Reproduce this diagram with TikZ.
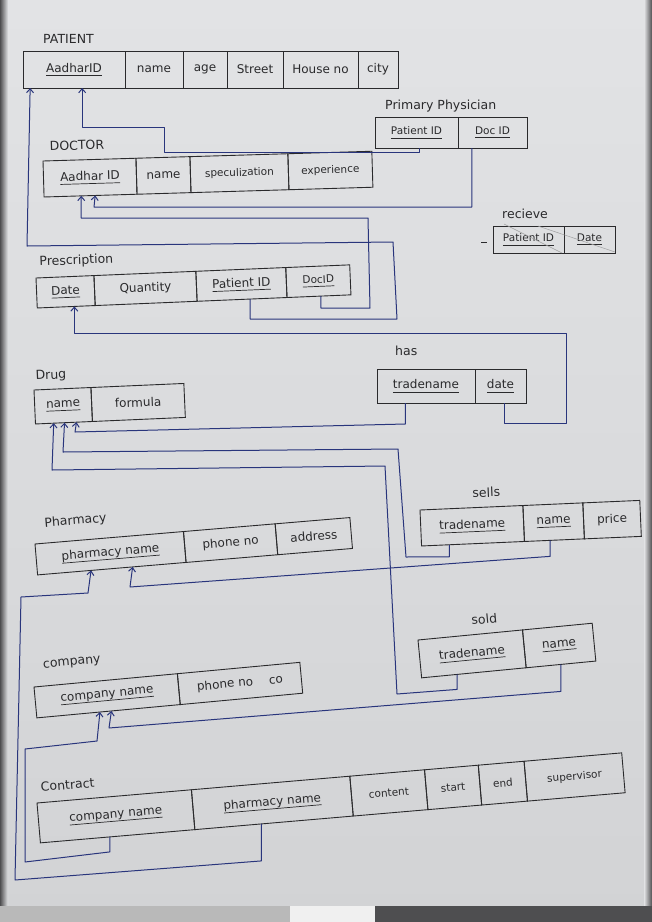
\documentclass[tikz,border=0pt]{standalone}
\usepackage{fontspec}
\setmainfont{DejaVu Sans}
\usetikzlibrary{arrows.meta,calc}

\definecolor{paperhi}{HTML}{E2E3E5}
\definecolor{paperlo}{HTML}{D2D3D5}
\definecolor{ink}{HTML}{2A2A2C}
\definecolor{pen}{HTML}{29357C}
\definecolor{edge}{HTML}{4E4E50}

% underlined key attribute
\newsavebox\keybox
\newcommand\ukey[1]{\sbox\keybox{#1}\rlap{\rule[-3.5pt]{\wd\keybox}{0.7pt}}\usebox\keybox}

\tikzset{
  cell/.style={draw=ink, line width=0.9pt, anchor=north west, inner sep=0pt,
               outer sep=0pt, text=ink, font=\fontsize{12}{14}\selectfont},
  small/.style={font=\fontsize{10.5}{12}\selectfont},
  lbl/.style={anchor=base west, inner sep=0pt, text=ink,
              font=\fontsize{12.5}{14}\selectfont},
  link/.style={draw=pen, line width=1pt, line join=round,
               -{Straight Barb[length=4pt,width=7pt]}},
  tbl/.style={transform shape}
}

\begin{document}
\begin{tikzpicture}[x=1pt,y=-1pt]
\useasboundingbox (0,0) rectangle (652,922);

% paper and photo edges
\shade[top color=paperhi, bottom color=paperlo] (0,0) rectangle (652,922);
\shade[left color=edge, right color=paperhi] (0,0) rectangle (8,906);
\shade[left color=paperhi, right color=edge] (644,0) rectangle (652,906);
\fill[gray!55] (0,906) rectangle (290,922);
\fill[gray!12] (290,906) rectangle (375,922);
\fill[edge] (375,906) rectangle (652,922);

% ---------------- PATIENT
\begin{scope}[shift={(23,51)}, tbl, cell/.append style={minimum height=37}]
  \node[lbl] (lab-pat) at (20,-8) {PATIENT};
  \node[cell, minimum width=102] (pat-id) at (0,0) {\ukey{AadharID}};
  \node[cell, minimum width=58] (pat-name) at (pat-id.north east) {name};
  \node[cell, minimum width=44] (pat-age) at (pat-name.north east) {age};
  \node[cell, minimum width=56] (pat-street) at (pat-age.north east) {Street};
  \node[cell, minimum width=75] (pat-house) at (pat-street.north east) {House no};
  \node[cell, minimum width=40] (pat-city) at (pat-house.north east) {city};
\end{scope}

% ---------------- Primary Physician
\begin{scope}[shift={(375,117)}, tbl, cell/.append style={minimum height=31}]
  \node[lbl] (lab-pp) at (10,-8) {Primary Physician};
  \node[cell, small, minimum width=83] (pp-pid) at (0,0) {\ukey{Patient ID}};
  \node[cell, small, minimum width=69] (pp-did) at (pp-pid.north east) {\ukey{Doc ID}};
\end{scope}

% ---------------- DOCTOR
\begin{scope}[shift={(43,161)}, rotate=1.7, tbl, cell/.append style={minimum height=36}]
  \node[lbl] (lab-doc) at (7,-10) {DOCTOR};
  \node[cell, minimum width=93] (doc-id) at (0,0) {\ukey{Aadhar ID}};
  \node[cell, minimum width=54] (doc-name) at (doc-id.north east) {name};
  \node[cell, small, minimum width=98] (doc-spec) at (doc-name.north east) {speculization};
  \node[cell, small, minimum width=84] (doc-exp) at (doc-spec.north east) {experience};
\end{scope}

% ---------------- recieve
\begin{scope}[shift={(493,226)}, tbl, cell/.append style={minimum height=27}]
  \node[lbl] (lab-rec) at (9,-8) {recieve};
  \node[cell, small, minimum width=71] (rec-pid) at (0,0) {\ukey{Patient ID}};
  \node[cell, small, minimum width=51] (rec-date) at (rec-pid.north east) {\ukey{Date}};
\end{scope}
\draw[ink!45, line width=0.5pt] (rec-pid.north west) ++(11,-2) -- ($(rec-pid.south east)+(-2,0)$);
\draw[ink!45, line width=0.5pt] ($(rec-pid.north east)+(-26,0)$) -- ($(rec-date.south east)+(0,-1)$);
\draw[ink, line width=0.8pt] ($(rec-pid.west)+(-12,3)$) coordinate (rec-dash) -- ++(6,0);

% ---------------- Prescription
\begin{scope}[shift={(36,278)}, rotate=2.4, tbl, cell/.append style={minimum height=30}]
  \node[lbl] (lab-pr) at (4,-12) {Prescription};
  \node[cell, minimum width=58] (pr-date) at (0,0) {\ukey{Date}};
  \node[cell, minimum width=102] (pr-qty) at (pr-date.north east) {Quantity};
  \node[cell, minimum width=90] (pr-pid) at (pr-qty.north east) {\ukey{Patient ID}};
  \node[cell, small, minimum width=64] (pr-did) at (pr-pid.north east) {\ukey{DocID}};
\end{scope}

% ---------------- has
\begin{scope}[shift={(377,369)}, tbl, cell/.append style={minimum height=34}]
  \node[lbl] (lab-has) at (18,-14) {has};
  \node[cell, minimum width=98] (has-tn) at (0,0) {\ukey{tradename}};
  \node[cell, minimum width=51] (has-date) at (has-tn.north east) {\ukey{date}};
\end{scope}

% ---------------- Drug
\begin{scope}[shift={(34,390)}, rotate=2.5, tbl, cell/.append style={minimum height=34}]
  \node[lbl] (lab-drug) at (2,-10) {Drug};
  \node[cell, minimum width=57] (drug-name) at (0,0) {\ukey{name}};
  \node[cell, minimum width=93] (drug-formula) at (drug-name.north east) {formula};
\end{scope}

% ---------------- sells
\begin{scope}[shift={(420,510)}, rotate=2.5, tbl, cell/.append style={minimum height=36}]
  \node[lbl] (lab-sells) at (53,-10) {sells};
  \node[cell, minimum width=103] (sells-tn) at (0,0) {\ukey{tradename}};
  \node[cell, minimum width=60] (sells-name) at (sells-tn.north east) {\ukey{name}};
  \node[cell, minimum width=57] (sells-price) at (sells-name.north east) {price};
\end{scope}

% ---------------- Pharmacy
\begin{scope}[shift={(35,544)}, rotate=4.8, tbl, cell/.append style={minimum height=31}]
  \node[lbl] (lab-ph) at (11,-16) {Pharmacy};
  \node[cell, minimum width=149] (ph-name) at (0,0) {\ukey{pharmacy name}};
  \node[cell, minimum width=92] (ph-phone) at (ph-name.north east) {phone no};
  \node[cell, minimum width=75] (ph-addr) at (ph-phone.north east) {address};
\end{scope}

% ---------------- sold
\begin{scope}[shift={(418,640)}, rotate=5.5, tbl, cell/.append style={minimum height=38}]
  \node[lbl] (lab-sold) at (55,-10) {sold};
  \node[cell, minimum width=105] (sold-tn) at (0,0) {\ukey{tradename}};
  \node[cell, minimum width=70] (sold-name) at (sold-tn.north east) {\ukey{name}};
\end{scope}

% ---------------- company
\begin{scope}[shift={(34,687)}, rotate=5.3, tbl, cell/.append style={minimum height=31}]
  \node[lbl] (lab-co) at (11,-18) {company};
  \node[cell, minimum width=144] (co-name) at (0,0) {\ukey{company name}};
  \node[cell, minimum width=123] (co-phone) at (co-name.north east) {phone no\hspace{16pt}co};
\end{scope}

% ---------------- Contract
\begin{scope}[shift={(37,803)}, rotate=4.9, tbl, cell/.append style={minimum height=40}]
  \node[lbl] (lab-ct) at (5,-11) {Contract};
  \node[cell, minimum width=155] (ct-co) at (0,0) {\ukey{company name}};
  \node[cell, minimum width=159] (ct-ph) at (ct-co.north east) {\ukey{pharmacy name}};
  \node[cell, small, minimum width=75] (ct-content) at (ct-ph.north east) {content};
  \node[cell, small, minimum width=54] (ct-start) at (ct-content.north east) {start};
  \node[cell, small, minimum width=46] (ct-end) at (ct-start.north east) {end};
  \node[cell, small, minimum width=98] (ct-sup) at (ct-end.north east) {supervisor};
\end{scope}

% ---------------- attachment points on the boxes
\coordinate (s1)  at ($(pr-pid.south west)!0.59!(pr-pid.south east)$);
\coordinate (t1)  at ($(pat-id.south west)!0.07!(pat-id.south east)$);
\coordinate (s2)  at ($(pp-pid.south west)!0.54!(pp-pid.south east)$);
\coordinate (t2)  at ($(pat-id.south west)!0.58!(pat-id.south east)$);
\coordinate (s3)  at ($(pp-did.south west)!0.20!(pp-did.south east)$);
\coordinate (t3)  at ($(doc-id.south west)!0.55!(doc-id.south east)$);
\coordinate (s4)  at ($(pr-did.south west)!0.53!(pr-did.south east)$);
\coordinate (t4)  at ($(doc-id.south west)!0.40!(doc-id.south east)$);
\coordinate (s5)  at ($(has-date.south west)!0.57!(has-date.south east)$);
\coordinate (t5)  at ($(pr-date.south west)!0.64!(pr-date.south east)$);
\coordinate (s6)  at ($(has-tn.south west)!0.29!(has-tn.south east)$);
\coordinate (t6)  at ($(drug-name.south west)!0.72!(drug-name.south east)$);
\coordinate (s7)  at ($(sells-tn.south west)!0.27!(sells-tn.south east)$);
\coordinate (t7)  at ($(drug-name.south west)!0.51!(drug-name.south east)$);
\coordinate (s8)  at ($(sold-tn.south west)!0.34!(sold-tn.south east)$);
\coordinate (t8)  at ($(drug-name.south west)!0.32!(drug-name.south east)$);
\coordinate (s9)  at ($(sells-name.south west)!0.43!(sells-name.south east)$);
\coordinate (t9)  at ($(ph-name.south west)!0.64!(ph-name.south east)$);
\coordinate (s10) at ($(sold-name.south west)!0.50!(sold-name.south east)$);
\coordinate (t10) at ($(co-name.south west)!0.52!(co-name.south east)$);
\coordinate (s11) at ($(ct-co.south west)!0.45!(ct-co.south east)$);
\coordinate (t11) at ($(co-name.south west)!0.44!(co-name.south east)$);
\coordinate (s12) at ($(ct-ph.south west)!0.42!(ct-ph.south east)$);
\coordinate (t12) at ($(ph-name.south west)!0.36!(ph-name.south east)$);

% ---------------- foreign keys
% Prescription.Patient ID -> PATIENT.AadharID
\draw[link] (s1) |- (397,319) -- (393,242) -- (27,246) -- (t1);
% Primary Physician.Patient ID -> PATIENT.AadharID
\draw[link] (s2) -- ++(0,4) -| (164,127) -| (t2);
% Primary Physician.Doc ID -> DOCTOR.Aadhar ID
\draw[link] (s3) |- (94,207) -- (t3);
% Prescription.DocID -> DOCTOR.Aadhar ID
\draw[link] (s4) |- (370,308) -- (368,218) -| (t4);
% has.date -> Prescription.Date
\draw[link] (s5) |- (566,423) -- (566,333) -| (t5);
% has.tradename -> Drug.name
\draw[link] (s6) -- ++(0,21) -- (75,432) -- (t6);
% sells.tradename -> Drug.name
\draw[link] (s7) -- ++(0,12) -- (406,557) -- (398,449) -- (63,452) -- (t7);
% sold.tradename -> Drug.name
\draw[link] (s8) -- ++(0,15) -- (397,694) -- (385,466) -- (52,470) -- (t8);
% sells.name -> Pharmacy.pharmacy name
\draw[link] (s9) -- ++(0,16) -- (130,587) -- (t9);
% sold.name -> company.company name
\draw[link] (s10) -- ++(0,27) -- (109,728) -- (t10);
% Contract.company name -> company.company name
\draw[link] (s11) -- ++(0,15) -- (25,862) -- (25,749) -- (97,741) -- (t11);
% Contract.pharmacy name -> Pharmacy.pharmacy name
\draw[link] (s12) -- ++(0,37) -- (15,880) -- (21,597) -- (88,593) -- (t12);

\end{tikzpicture}
\end{document}
